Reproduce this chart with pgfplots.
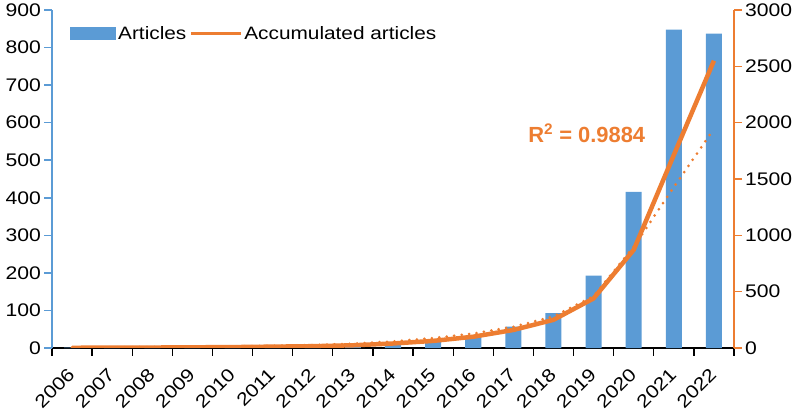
\documentclass[border=0pt]{standalone}
\usepackage{fontspec}
\setmainfont{Liberation Sans}
\newfontfamily\tickfont[FakeStretch=1.16]{Liberation Sans}
\usepackage{pgfplots}
\pgfplotsset{compat=1.18}
\definecolor{cblue}{HTML}{5B9BD5}
\definecolor{corange}{HTML}{ED7D31}
\begin{document}
\begin{tikzpicture}
\pgfplotsset{
  base/.style={
    scale only axis, width=682bp, height=338bp,
    xmin=-0.5, xmax=16.5,
    /pgf/number format/assume math mode=true,
    /pgf/number format/1000 sep={},
    tick label style={font=\tickfont\fontsize{18.3}{20}\selectfont, text=black},
    tick align=outside,
    major tick length=7.5bp,
  }
}
\begin{axis}[base,
  at={(0,0)}, anchor=south west,
  ymin=0, ymax=900, ytick={0,100,...,900},
  axis y line*=left, axis x line*=bottom,
  y axis line style={draw=cblue, line width=1.8bp},
  x axis line style={draw=black, line width=1.3bp},
  ytick style={draw=cblue, line width=1.5bp},
  xtick={-0.5,0.5,...,16.5}, xticklabels={},
  xtick style={draw=black, line width=1.3bp},
  extra x ticks={0,1,...,16},
  extra x tick labels={2006,2007,2008,2009,2010,2011,2012,2013,2014,2015,2016,2017,2018,2019,2020,2021,2022},
  extra x tick style={major tick length=0pt, tick label style={rotate=45, anchor=north east, xshift=-13.6bp, yshift=-6bp}},
  ybar, bar width=0.4,
  legend style={draw=none, fill=none, at={(0.022,0.965)}, anchor=north west,
    font=\tickfont\fontsize{18}{20}\selectfont, legend columns=2,
    /tikz/every even column/.append style={column sep=1bp}},
  legend cell align=left,
]
\addplot[fill=cblue, draw=none,
  legend image code/.code={\fill[cblue] (0bp,-6.5bp) rectangle (46bp,6.5bp);}]
  coordinates {(0,1) (1,1) (2,1) (3,2) (4,2) (5,3) (6,4) (7,5) (8,8) (9,19) (10,30) (11,57) (12,93) (13,193) (14,416) (15,848) (16,837)};
\addlegendentry{Articles}
\addlegendimage{line legend, corange, line width=3bp,
  legend image code/.code={\draw[corange, line width=3bp] (0bp,0bp) -- (50bp,0bp);}}
\addlegendentry{Accumulated articles}
\end{axis}
\begin{axis}[base,
  at={(0,0)}, anchor=south west,
  ymin=0, ymax=3000, ytick={0,500,...,3000},
  axis y line*=right, axis x line=none,
  y axis line style={draw=corange, line width=1.8bp},
  ytick style={draw=corange, line width=1.5bp},
]
\addplot[corange, line width=3bp, line cap=round, dash pattern=on 0bp off 7.5bp]
  coordinates {(0,5) (1,6) (2,8) (3,10) (4,14) (5,19) (6,26) (7,38) (8,58) (9,88) (10,128) (11,188) (12,280) (13,460) (14,900) (15,1427) (16,1945)};
\addplot[corange, line width=4.5bp, line join=round]
  coordinates {(0,2) (1,3) (2,4) (3,6) (4,8) (5,12) (6,16) (7,24) (8,40) (9,63) (10,100) (11,160) (12,250) (13,440) (14,871) (15,1713) (16,2550)};
\node[text=corange, font=\bfseries\fontsize{22}{24}\selectfont] at (axis cs:12.83,1908) {R\textsuperscript{2} = 0.9884};
\end{axis}
\pgfresetboundingbox
\path (-52bp,-68bp) rectangle (744bp,348bp);
\end{tikzpicture}
\end{document}
